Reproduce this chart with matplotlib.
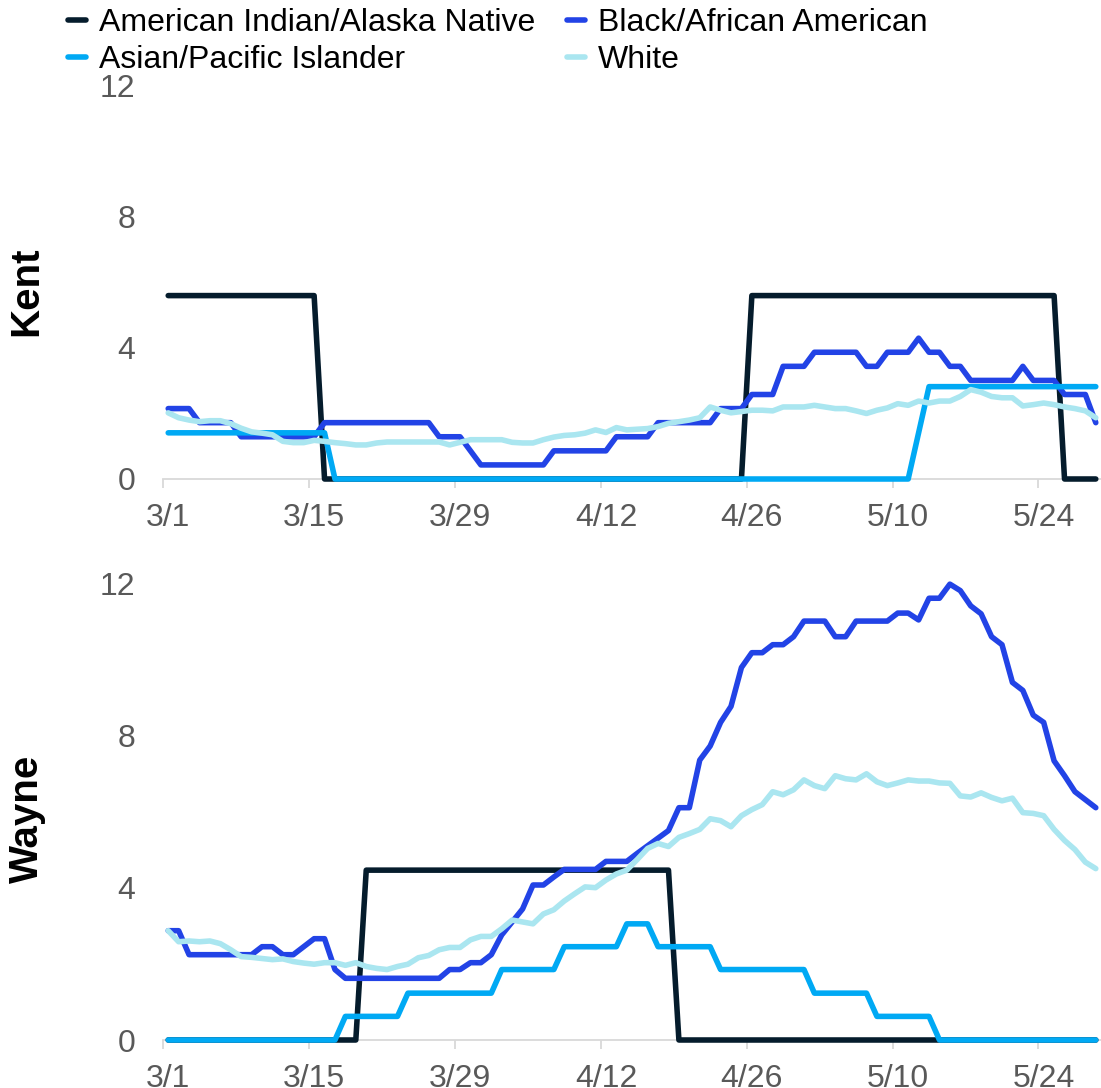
import matplotlib
matplotlib.use("Agg")
import matplotlib.pyplot as plt
import numpy as np
import pandas as pd

plt.rcParams['font.family'] = ['Liberation Sans', 'DejaVu Sans']

# ---------------- data ----------------
dates = pd.date_range("2020-03-01", "2020-05-29", freq="D")
tick_labels = ["3/1", "3/15", "3/29", "4/12", "4/26", "5/10", "5/24"]
y_ticks = [0, 4, 8, 12]
regions = ["Kent", "Wayne"]
series_names = ["American Indian/Alaska Native", "Black/African American",
                "Asian/Pacific Islander", "White"]

kent_aian = [5.6, 5.6, 5.6, 5.6, 5.6, 5.6, 5.6, 5.6, 5.6, 5.6,
             5.6, 5.6, 5.6, 5.6, 5.6, 0, 0, 0, 0, 0,
             0, 0, 0, 0, 0, 0, 0, 0, 0, 0,
             0, 0, 0, 0, 0, 0, 0, 0, 0, 0,
             0, 0, 0, 0, 0, 0, 0, 0, 0, 0,
             0, 0, 0, 0, 0, 0, 5.6, 5.6, 5.6, 5.6,
             5.6, 5.6, 5.6, 5.6, 5.6, 5.6, 5.6, 5.6, 5.6, 5.6,
             5.6, 5.6, 5.6, 5.6, 5.6, 5.6, 5.6, 5.6, 5.6, 5.6,
             5.6, 5.6, 5.6, 5.6, 5.6, 5.6, 0, 0, 0, 0]
kent_black = [2.15, 2.15, 2.15, 1.72, 1.72, 1.72, 1.72, 1.29, 1.29, 1.29,
              1.29, 1.29, 1.29, 1.29, 1.29, 1.72, 1.72, 1.72, 1.72, 1.72,
              1.72, 1.72, 1.72, 1.72, 1.72, 1.72, 1.29, 1.29, 1.29, 0.86,
              0.43, 0.43, 0.43, 0.43, 0.43, 0.43, 0.43, 0.86, 0.86, 0.86,
              0.86, 0.86, 0.86, 1.29, 1.29, 1.29, 1.29, 1.72, 1.72, 1.72,
              1.72, 1.72, 1.72, 2.15, 2.15, 2.15, 2.58, 2.58, 2.58, 3.44,
              3.44, 3.44, 3.87, 3.87, 3.87, 3.87, 3.87, 3.44, 3.44, 3.87,
              3.87, 3.87, 4.30, 3.87, 3.87, 3.44, 3.44, 3.01, 3.01, 3.01,
              3.01, 3.01, 3.44, 3.01, 3.01, 3.01, 2.58, 2.58, 2.58, 1.72]
kent_asian = [1.41, 1.41, 1.41, 1.41, 1.41, 1.41, 1.41, 1.41, 1.41, 1.41,
              1.41, 1.41, 1.41, 1.41, 1.41, 1.41, 0, 0, 0, 0,
              0, 0, 0, 0, 0, 0, 0, 0, 0, 0,
              0, 0, 0, 0, 0, 0, 0, 0, 0, 0,
              0, 0, 0, 0, 0, 0, 0, 0, 0, 0,
              0, 0, 0, 0, 0, 0, 0, 0, 0, 0,
              0, 0, 0, 0, 0, 0, 0, 0, 0, 0,
              0, 0, 1.41, 2.82, 2.82, 2.82, 2.82, 2.82, 2.82, 2.82,
              2.82, 2.82, 2.82, 2.82, 2.82, 2.82, 2.82, 2.82, 2.82, 2.82]
kent_white = [2.02, 1.87, 1.80, 1.75, 1.78, 1.78, 1.69, 1.55, 1.44, 1.40,
              1.35, 1.15, 1.11, 1.11, 1.18, 1.15, 1.11, 1.08, 1.04, 1.04,
              1.10, 1.13, 1.13, 1.13, 1.13, 1.13, 1.13, 1.04, 1.12, 1.20,
              1.20, 1.20, 1.20, 1.12, 1.10, 1.10, 1.20, 1.28, 1.33, 1.35,
              1.40, 1.50, 1.42, 1.57, 1.50, 1.52, 1.54, 1.60, 1.70, 1.75,
              1.80, 1.87, 2.20, 2.10, 2.02, 2.06, 2.10, 2.10, 2.08, 2.20,
              2.20, 2.20, 2.25, 2.20, 2.15, 2.15, 2.08, 2.00, 2.10, 2.17,
              2.30, 2.25, 2.38, 2.32, 2.38, 2.38, 2.52, 2.73, 2.65, 2.52,
              2.48, 2.48, 2.23, 2.27, 2.32, 2.27, 2.20, 2.15, 2.08, 1.87]

wayne_aian = [0, 0, 0, 0, 0, 0, 0, 0, 0, 0,
              0, 0, 0, 0, 0, 0, 0, 0, 0, 4.46,
              4.46, 4.46, 4.46, 4.46, 4.46, 4.46, 4.46, 4.46, 4.46, 4.46,
              4.46, 4.46, 4.46, 4.46, 4.46, 4.46, 4.46, 4.46, 4.46, 4.46,
              4.46, 4.46, 4.46, 4.46, 4.46, 4.46, 4.46, 4.46, 4.46, 0,
              0, 0, 0, 0, 0, 0, 0, 0, 0, 0,
              0, 0, 0, 0, 0, 0, 0, 0, 0, 0,
              0, 0, 0, 0, 0, 0, 0, 0, 0, 0,
              0, 0, 0, 0, 0, 0, 0, 0, 0, 0]
wayne_black = [2.87, 2.87, 2.24, 2.24, 2.24, 2.24, 2.24, 2.24, 2.24, 2.45,
               2.45, 2.24, 2.24, 2.45, 2.66, 2.66, 1.85, 1.62, 1.62, 1.62,
               1.62, 1.62, 1.62, 1.62, 1.62, 1.62, 1.62, 1.85, 1.85, 2.03,
               2.03, 2.24, 2.76, 3.10, 3.44, 4.07, 4.07, 4.28, 4.48, 4.48,
               4.48, 4.48, 4.69, 4.69, 4.69, 4.90, 5.10, 5.30, 5.50, 6.10,
               6.10, 7.35, 7.72, 8.34, 8.76, 9.78, 10.17, 10.17, 10.38, 10.38,
               10.59, 11.00, 11.00, 11.00, 10.59, 10.59, 11.00, 11.00, 11.00, 11.00,
               11.21, 11.21, 11.03, 11.60, 11.60, 11.97, 11.80, 11.40, 11.19, 10.59,
               10.38, 9.39, 9.18, 8.53, 8.34, 7.33, 6.94, 6.52, 6.31, 6.10]
wayne_asian = [0, 0, 0, 0, 0, 0, 0, 0, 0, 0,
               0, 0, 0, 0, 0, 0, 0, 0.62, 0.62, 0.62,
               0.62, 0.62, 0.62, 1.23, 1.23, 1.23, 1.23, 1.23, 1.23, 1.23,
               1.23, 1.23, 1.85, 1.85, 1.85, 1.85, 1.85, 1.85, 2.45, 2.45,
               2.45, 2.45, 2.45, 2.45, 3.05, 3.05, 3.05, 2.45, 2.45, 2.45,
               2.45, 2.45, 2.45, 1.85, 1.85, 1.85, 1.85, 1.85, 1.85, 1.85,
               1.85, 1.85, 1.23, 1.23, 1.23, 1.23, 1.23, 1.23, 0.62, 0.62,
               0.62, 0.62, 0.62, 0.62, 0, 0, 0, 0, 0, 0,
               0, 0, 0, 0, 0, 0, 0, 0, 0, 0]
wayne_white = [2.87, 2.58, 2.60, 2.58, 2.60, 2.53, 2.37, 2.19, 2.17, 2.14,
               2.11, 2.13, 2.06, 2.02, 1.99, 2.03, 2.03, 1.96, 2.03, 1.93,
               1.88, 1.85, 1.93, 1.99, 2.16, 2.22, 2.37, 2.43, 2.43, 2.63,
               2.72, 2.72, 2.92, 3.15, 3.10, 3.05, 3.31, 3.42, 3.65, 3.84,
               4.02, 4.00, 4.20, 4.36, 4.46, 4.74, 5.03, 5.16, 5.08, 5.32,
               5.42, 5.53, 5.81, 5.76, 5.60, 5.89, 6.05, 6.18, 6.52, 6.44,
               6.57, 6.83, 6.68, 6.60, 6.94, 6.86, 6.83, 6.99, 6.78, 6.68,
               6.75, 6.83, 6.80, 6.80, 6.75, 6.74, 6.41, 6.38, 6.49, 6.37,
               6.28, 6.35, 5.97, 5.95, 5.89, 5.53, 5.24, 5.00, 4.67, 4.50]

# ---------------- style ----------------
colors = ["#051C2C", "#2243E6", "#00A9F4", "#AAE6F0"]
draw_order = [0, 1, 2, 3]
LW = 4.0
FS = 23
TICK_COLOR = "#595959"
AXIS_COLOR = "#D9D9D9"

W, H = 1101, 1088
fig = plt.figure(figsize=(W / 100, H / 100), dpi=100)

left = 163 / W
width = (W - 163) / W
ax_kent = fig.add_axes([left, 1 - 479 / H, width, (479 - 86) / H])
ax_wayne = fig.add_axes([left, 1 - 1040 / H, width, (1040 - 583) / H])

data = {
    "Kent": [kent_aian, kent_black, kent_asian, kent_white],
    "Wayne": [wayne_aian, wayne_black, wayne_asian, wayne_white],
}

x = np.arange(len(dates))
date_labels = [f"{d.month}/{d.day}" for d in dates]
label_pos = [date_labels.index(t) for t in tick_labels]

handles = {}
for ax, region in zip([ax_kent, ax_wayne], regions):
    for i in draw_order:
        ln, = ax.plot(x, data[region][i], color=colors[i], lw=LW,
                      solid_joinstyle="round", solid_capstyle="round",
                      clip_on=False, zorder=3 + i)
        handles[series_names[i]] = ln
    ax.set_xlim(-0.5, len(dates) - 0.5)
    ax.set_ylim(0, 12)
    for s in ["top", "right", "left"]:
        ax.spines[s].set_visible(False)
    ax.spines["bottom"].set_color(AXIS_COLOR)
    ax.spines["bottom"].set_linewidth(1.3)
    ax.set_xticks(label_pos)
    ax.set_xticklabels(tick_labels)
    ax.set_xticks([p - 0.5 for p in label_pos], minor=True)
    ax.tick_params(axis="x", which="major", length=0, pad=17,
                   labelsize=FS, labelcolor=TICK_COLOR)
    ax.tick_params(axis="x", which="minor", length=6.5, width=1.3,
                   color=AXIS_COLOR, direction="out")
    ax.set_yticks(y_ticks)
    ax.tick_params(axis="y", length=0, pad=20, labelsize=FS,
                   labelcolor=TICK_COLOR)

# region labels (rotated, bold)
fig.text(26 / W, 1 - 291 / H, regions[0], rotation=90, ha="center", va="center",
         fontsize=29, fontweight="bold", color="black")
fig.text(27 / W, 1 - 819 / H, regions[1], rotation=90, ha="center", va="center",
         fontsize=29, fontweight="bold", color="black")

legend_order = [series_names[0], series_names[2], series_names[1], series_names[3]]
fig.legend([handles[n] for n in legend_order], legend_order,
           loc="upper left", bbox_to_anchor=(68 / W, 1 - 8 / H),
           ncol=2, frameon=False, fontsize=FS, borderpad=0,
           handlelength=0.55, handletextpad=0.42, columnspacing=1.0,
           labelspacing=0.22, borderaxespad=0)

fig.savefig("out.png", dpi=100)
